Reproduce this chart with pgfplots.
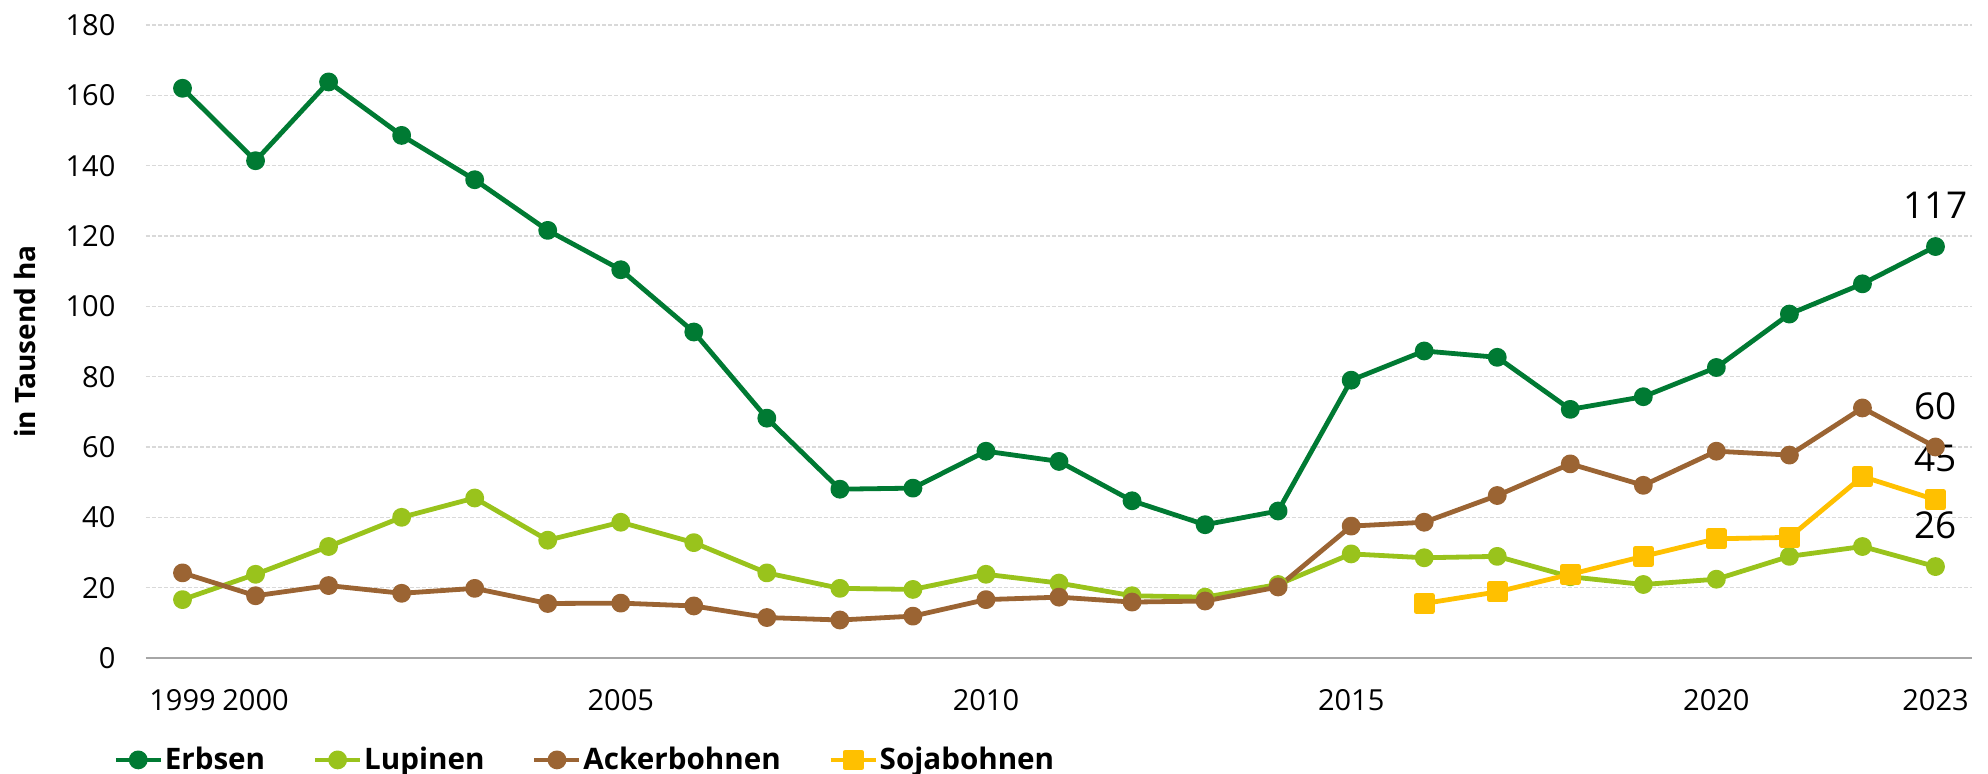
\documentclass[border=0pt]{standalone}
\usepackage{fontspec}
\setmainfont{Open Sans}
\usepackage{pgfplots}
\pgfplotsset{compat=1.18}
\definecolor{erbsen}{HTML}{007A33}
\definecolor{lupinen}{HTML}{99C31C}
\definecolor{acker}{HTML}{9B6433}
\definecolor{soja}{HTML}{FFC000}
\definecolor{gridgray}{HTML}{D9D9D9}
\definecolor{axisgray}{HTML}{A6A6A6}
\begin{document}
\begin{tikzpicture}
\useasboundingbox (-73pt,-58pt) rectangle (921pt,329pt);
\begin{axis}[
  at={(0,0)}, anchor=south west,
  scale only axis, width=913pt, height=316.5pt,
  xmin=1998.5, xmax=2023.5, ymin=0, ymax=180,
  xtick={1999,2000,2005,2010,2015,2020,2023},
  xticklabels={1999,2000,2005,2010,2015,2020,2023},
  ytick={0,20,...,180},
  /pgf/number format/assume math mode=true,
  tick label style={font=\fontsize{14.5}{16}\selectfont, text=black},
  xticklabel style={yshift=-12pt},
  yticklabel style={xshift=-11.8pt},
  major tick length=0pt,
  axis x line*=bottom, axis y line*=left,
  x axis line style={draw=axisgray, line width=1pt, -},
  y axis line style={draw=none},
  ymajorgrids, grid style={draw=gridgray, line width=0.6pt, dash pattern=on 2pt off 1pt},
  ylabel={in Tausend ha},
  ylabel style={at={(axis description cs:-0.0663,0.5)}, anchor=center, font=\bfseries\fontsize{14}{16}\selectfont},
  clip=false,
  every axis plot/.append style={line width=2.4pt, line join=round},
  legend columns=4,
  legend style={at={(-0.0181,-0.161)}, anchor=west, draw=none, fill=none, inner sep=0pt,
    font=\bfseries\fontsize{14.8}{16}\selectfont,
    /tikz/every odd column/.append style={column sep=0pt},
    /tikz/every even column/.append style={column sep=23pt},
    nodes={inner xsep=0.8pt, inner ysep=0pt}},
  legend cell align=left,
  legend image code/.code={\draw[mark repeat=2, mark phase=2] plot coordinates {(0pt,0pt) (11.25pt,0pt) (22.5pt,0pt)};},
]
\addplot[color=erbsen, mark=*, mark size=3.5pt] coordinates {
(1999,162.0) (2000,141.4) (2001,163.8) (2002,148.6) (2003,136.0) (2004,121.6) (2005,110.4) (2006,92.7) (2007,68.2) (2008,48.0) (2009,48.3) (2010,58.8) (2011,55.9) (2012,44.7) (2013,37.9) (2014,41.8) (2015,79.0) (2016,87.3) (2017,85.5) (2018,70.7) (2019,74.3) (2020,82.6) (2021,97.8) (2022,106.4) (2023,117.0)};
\addlegendentry{Erbsen}
\addplot[color=lupinen, mark=*, mark size=3.5pt] coordinates {
(1999,16.6) (2000,23.8) (2001,31.7) (2002,40.0) (2003,45.5) (2004,33.5) (2005,38.6) (2006,32.8) (2007,24.2) (2008,19.8) (2009,19.5) (2010,23.8) (2011,21.3) (2012,17.7) (2013,17.3) (2014,20.9) (2015,29.6) (2016,28.5) (2017,28.9) (2018,23.1) (2019,20.9) (2020,22.4) (2021,28.9) (2022,31.7) (2023,26.0)};
\addlegendentry{Lupinen}
\addplot[color=acker, mark=*, mark size=3.5pt] coordinates {
(1999,24.2) (2000,17.7) (2001,20.6) (2002,18.4) (2003,19.8) (2004,15.5) (2005,15.6) (2006,14.8) (2007,11.5) (2008,10.8) (2009,11.9) (2010,16.6) (2011,17.3) (2012,15.9) (2013,16.2) (2014,20.2) (2015,37.5) (2016,38.6) (2017,46.2) (2018,55.2) (2019,49.1) (2020,58.8) (2021,57.7) (2022,71.1) (2023,60.0)};
\addlegendentry{Ackerbohnen}
\addplot[color=soja, mark=square*, mark size=4pt] coordinates {
(2016,15.5) (2017,18.8) (2018,23.8) (2019,28.9) (2020,33.9) (2021,34.3) (2022,51.6) (2023,45.0)};
\addlegendentry{Sojabohnen}
\node[font=\fontsize{18.5}{20}\selectfont, yshift=20.5pt] at (axis cs:2023,117) {117};
\node[font=\fontsize{18.5}{20}\selectfont, yshift=20.5pt] at (axis cs:2023,60) {60};
\node[font=\fontsize{18.5}{20}\selectfont, yshift=20.5pt] at (axis cs:2023,45) {45};
\node[font=\fontsize{18.5}{20}\selectfont, yshift=20.5pt] at (axis cs:2023,26) {26};
\end{axis}
\end{tikzpicture}
\end{document}
